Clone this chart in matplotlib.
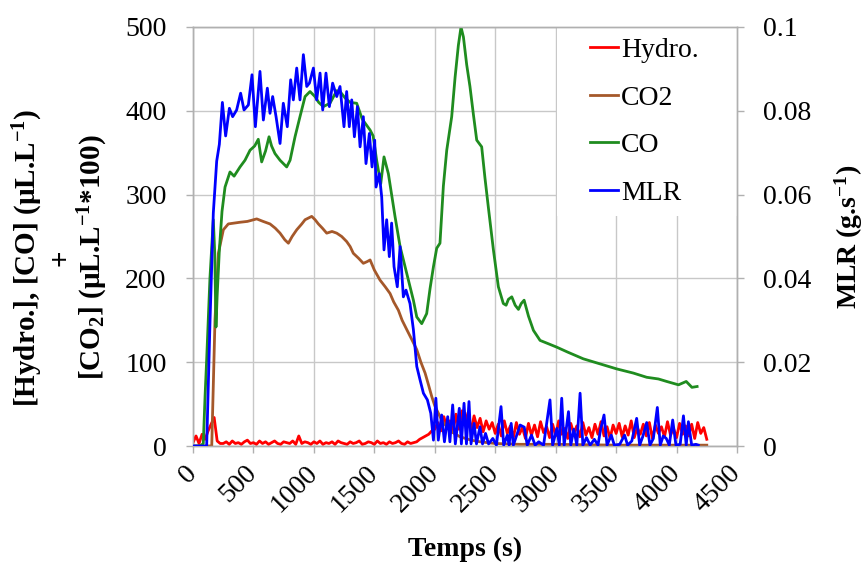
import numpy as np
import matplotlib
matplotlib.use("Agg")
import matplotlib.pyplot as plt
from matplotlib.patches import Rectangle

# ---------------- data ----------------
hydro_step = 25
hydro_v = [4, 12, 3, 14, 8, 18, 26, 34, 6, 3,
           3, 5, 2, 6, 3, 4, 2, 5, 7, 3,
           4, 2, 6, 3, 5, 2, 4, 6, 3, 2,
           5, 4, 3, 6, 2, 12, 3, 5, 4, 2,
           5, 3, 6, 2, 4, 3, 5, 2, 6, 4,
           3, 2, 5, 3, 4, 6, 2, 3, 5, 4,
           2, 6, 3, 4, 2, 5, 3, 4, 6, 3,
           2, 5, 3, 4,
           5, 8, 10, 12, 14, 18, 20,
           28, 18, 35, 22, 30, 16, 38, 20, 42, 25, 40, 18, 36, 22, 33, 17, 30, 20, 28, 15,
           26, 12, 30, 15, 24, 10, 28, 14, 22, 9,
           27, 13, 25, 11, 29, 16, 23, 10, 26, 12,
           30, 14, 21, 9, 27, 15, 24, 11, 28, 13,
           22, 10, 26, 14, 29, 12, 23, 9, 25, 15,
           27, 11, 24, 13, 30, 10, 22, 14, 26, 12,
           28, 9, 25, 15, 23, 11, 29, 13, 21, 10,
           27, 14, 24, 12, 26, 9, 28, 15, 22, 8]
hydro_t = [i * hydro_step for i in range(len(hydro_v))]

co2_t = [0, 100, 155, 182, 210, 251, 292, 340, 389, 450, 527, 580, 637, 680, 720, 760, 789,
         820, 858, 900, 927, 982, 1010, 1037, 1070, 1106, 1150, 1189, 1230, 1271, 1300, 1326,
         1370, 1409, 1440, 1465, 1500, 1547, 1590, 1630, 1660, 1699, 1730, 1768, 1810, 1851,
         1885, 1920, 1950, 1975, 2000, 2030, 2060, 2099, 2150, 2209, 2300, 2375, 2500, 2700,
         3000, 3500, 4000, 4250]
co2_v = [0, 0, 0, 151, 230, 258, 265, 266, 267, 268, 271, 268, 265, 260, 254, 246, 242,
         250, 258, 265, 270, 274, 270, 265, 260, 254, 256, 254, 250, 244, 238, 230,
         224, 218, 220, 222, 210, 198, 190, 182, 172, 162, 150, 139, 127, 115,
         100, 87, 72, 59, 48, 39, 30, 23, 16, 11, 7, 5, 3, 2,
         2, 1, 1, 1]

co_t = [0, 60, 85, 100, 113, 140, 168, 180, 190, 200, 218, 240, 265, 306, 340, 389, 430, 472,
        510, 540, 568, 600, 629, 650, 678, 720, 775, 803, 844, 885, 927, 968, 1009, 1040, 1078,
        1133, 1189, 1216, 1260, 1300, 1354, 1400, 1465, 1490, 1519, 1553, 1580, 1616, 1671,
        1713, 1768, 1823, 1851, 1892, 1933, 1961, 1989, 2016, 2043, 2071, 2099, 2140, 2168,
        2195, 2217, 2237, 2264, 2291, 2320, 2347, 2388, 2415, 2443, 2485, 2526, 2567, 2590,
        2609, 2637, 2665, 2692, 2715, 2739, 2775, 2816, 2871, 2940, 3008, 3100, 3229, 3367,
        3505, 3643, 3753, 3850, 3919, 4016, 4080, 4127, 4170]
co_v = [0, 0, 3, 60, 103, 200, 270, 230, 142, 180, 234, 280, 309, 327, 322, 333, 341, 353,
        358, 366, 339, 352, 369, 358, 349, 341, 333, 341, 369, 393, 417, 423, 417, 410, 405,
        409, 424, 423, 415, 410, 409, 390, 377, 370, 341, 313, 345, 325, 274,
        238, 206, 174, 154, 146, 158, 188, 214, 236, 242, 310, 353, 393, 440,
        478, 500, 488, 455, 429, 395, 365, 357, 320, 285, 234, 190, 170, 168,
        175, 178, 168, 163, 170, 174, 155, 138, 126, 122, 118, 112, 104, 98,
        92, 87, 82, 80, 77, 73, 77, 70, 71]

mlr_t = [0, 50, 100, 113, 141, 168, 196, 218, 243, 270, 301, 328, 361, 394, 422, 458, 488,
         516, 554, 582, 615, 637, 659, 687, 720, 747, 780, 808, 830, 858, 885, 913, 941, 963,
         996, 1023, 1051, 1073, 1100, 1128, 1155, 1189, 1216, 1249, 1271, 1293, 1313, 1335,
         1360, 1382, 1409, 1431, 1459, 1481, 1503, 1514, 1541, 1561, 1580, 1602, 1624, 1643,
         1663, 1690, 1713, 1740, 1762, 1795, 1823, 1851, 1878, 1906, 1939, 1967, 1989, 2009,
         2029, 2057, 2080, 2107, 2125, 2148, 2170, 2203, 2220, 2242, 2262, 2283, 2300, 2325,
         2345, 2374, 2395, 2420, 2445, 2480, 2510, 2548, 2570, 2600, 2615, 2632, 2650, 2706,
         2740, 2765, 2800, 2830, 2860, 2900, 2953, 2975, 3010, 3030, 3050, 3070, 3106, 3125,
         3150, 3175, 3202, 3225, 3255, 3285, 3320, 3350, 3372, 3400, 3425, 3460, 3485, 3530,
         3570, 3595, 3630, 3670, 3695, 3720, 3753, 3780, 3808, 3841, 3865, 3890, 3915, 3940,
         3968, 3995, 4030, 4057, 4080, 4098, 4125, 4160, 4180]
mlr_v = [0, 0, 0, 0, 0.030, 0.0556, 0.068, 0.072, 0.082, 0.074, 0.0806, 0.0786, 0.0802,
         0.0842, 0.0802, 0.0814, 0.0886, 0.0762, 0.0894, 0.0778, 0.0854, 0.0794, 0.0834,
         0.0786, 0.0722, 0.0818, 0.0762, 0.0874, 0.0826, 0.0902, 0.0826, 0.0934, 0.0858,
         0.0866, 0.0902, 0.0826, 0.089, 0.0802, 0.089, 0.081, 0.0866, 0.0834, 0.0858,
         0.0762, 0.0846, 0.0762, 0.0826, 0.0738, 0.081, 0.0714, 0.0786, 0.0674, 0.0746,
         0.0666, 0.073, 0.0618, 0.065, 0.0594, 0.0468, 0.054, 0.0452, 0.0532, 0.0428,
         0.038, 0.0476, 0.0356, 0.0372, 0.034, 0.0278, 0.019, 0.0158, 0.0126, 0.011,
         0.0078, 0.0014, 0.0114, 0.0014, 0.0074, 0.001, 0.007, 0.001, 0.0098, 0.0005,
         0.009, 0.0005, 0.0102, 0.0005, 0.0106, 0.0005, 0.0054, 0.0005, 0.0046, 0.0005,
         0.0030, 0.0005, 0.0018, 0.0002, 0.0094, 0.0002, 0.0026, 0.0002, 0.0054, 0.0002,
         0.005, 0.0045, 0.0002, 0.0026, 0.0002, 0.001, 0.0002, 0.011, 0.0002, 0.0042,
         0.0002, 0.0114, 0.0002, 0.0082, 0.0002, 0.004, 0.0002, 0.0126, 0.0002, 0.002,
         0.0002, 0.0016, 0.0002, 0.004, 0.0074, 0.0002, 0.0026, 0.0002, 0.0004, 0.0026,
         0.0002, 0.0012, 0.0066, 0.0002, 0.0022, 0.0056, 0.0002, 0.0018, 0.0092, 0.0002,
         0.0024, 0.0018, 0.0002, 0.0062, 0.0002, 0.0004, 0.0072, 0.0002, 0.0058, 0.0002,
         0.0004, 0.0002]

x_ticks = [0, 500, 1000, 1500, 2000, 2500, 3000, 3500, 4000, 4500]
left_ticks = [0, 100, 200, 300, 400, 500]
right_ticks = [0, 0.02, 0.04, 0.06, 0.08, 0.1]
right_labels = ["0", "0.02", "0.04", "0.06", "0.08", "0.1"]
series_names = ["Hydro.", "CO2", "CO", "MLR"]

# ---------------- style ----------------
plt.rcParams['font.family'] = ['Liberation Serif', 'DejaVu Serif']
plt.rcParams['mathtext.fontset'] = 'custom'
plt.rcParams['mathtext.rm'] = 'Liberation Serif:bold'
plt.rcParams['mathtext.it'] = 'Liberation Serif:bold:italic'
plt.rcParams['mathtext.bf'] = 'Liberation Serif:bold'

FS = 20
GRID = '#c8c8c8'
AXC = '#b0b0b0'
c_red, c_brown, c_green, c_blue = '#ff0000', '#a5582a', '#1f8c1f', '#0000ff'

fig = plt.figure(figsize=(8.65, 5.65), dpi=100)
ax = fig.add_axes([193 / 865, 1 - 446 / 565, (737 - 193) / 865, (446 - 27) / 565])
ax2 = ax.twinx()

lw = 2.0
l1, = ax.plot(hydro_t, hydro_v, color=c_red, lw=lw, zorder=3)
l2, = ax.plot(co2_t, co2_v, color=c_brown, lw=lw, zorder=3)
l3, = ax.plot(co_t, co_v, color=c_green, lw=lw, zorder=3)
l4, = ax2.plot(mlr_t, mlr_v, color=c_blue, lw=lw, zorder=3)

ax.set_xlim(0, 4500)
ax.set_ylim(0, 500)
ax2.set_ylim(0, 0.1)
ax.set_axisbelow(True)
ax.grid(True, color=GRID, lw=1.0)

ax.set_xticks(x_ticks)
ax.set_xticklabels([str(v) for v in x_ticks], rotation=45, ha='right', va='center',
                   rotation_mode='anchor', fontsize=FS)
ax.set_yticks(left_ticks)
ax.set_yticklabels([str(v) for v in left_ticks], fontsize=FS)
ax2.set_yticks(right_ticks)
ax2.set_yticklabels(right_labels, fontsize=FS)

for a in (ax, ax2):
    for s in a.spines.values():
        s.set_color(AXC)
        s.set_linewidth(1.0)
    a.tick_params(colors=AXC, labelcolor='black', length=5, width=1.0, direction='out')
ax.tick_params(axis='x', pad=12)
ax.tick_params(axis='y', pad=14)
ax2.tick_params(axis='y', pad=14)

# white box behind the legend (hides gridlines there)
ax.add_patch(Rectangle((0.669, 0.549), 0.331, 0.449, transform=ax.transAxes,
                       facecolor='white', edgecolor='none', zorder=1))

ax.set_xlabel('Temps (s)', fontsize=FS, fontweight='bold', labelpad=14)
ax.set_ylabel('[Hydro.], [CO] (µL.L$^{-1}$)\n+\n[CO$_2$] (µL.L$^{-1}$*100)',
              fontsize=21, fontweight='bold', multialignment='center',
              linespacing=1.08)
ax.yaxis.set_label_coords(-0.152, 0.45)
ax2.set_ylabel('MLR (g.s$^{-1}$)', fontsize=FS, fontweight='bold', labelpad=15)

leg = ax2.legend([l1, l2, l3, l4], series_names, loc='upper left',
                 bbox_to_anchor=((593 - 193) / 544 - 0.02, 0.995), frameon=False,
                 fontsize=FS, handlelength=1.0, handletextpad=0.1,
                 labelspacing=0.8, borderpad=0.3, borderaxespad=0.0)

fig.savefig('out.png', dpi=100)
